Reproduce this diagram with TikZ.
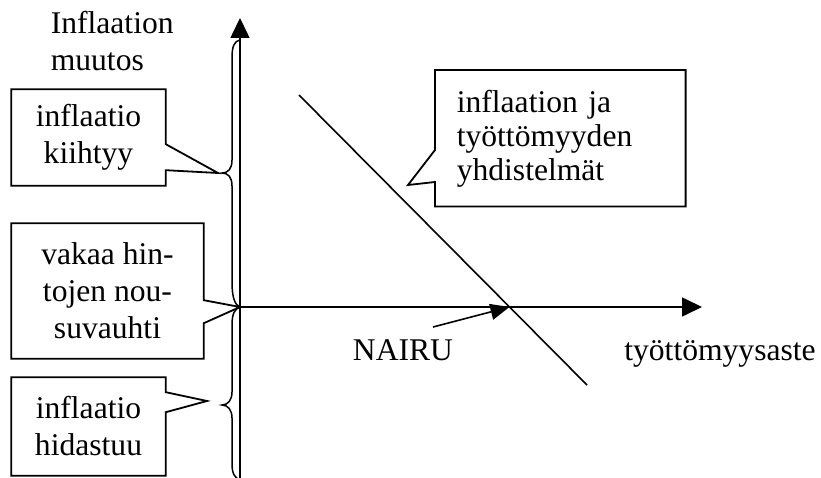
\documentclass[tikz,border=0pt]{standalone}
\usepackage{fontspec}
\setmainfont{Liberation Serif}
\usetikzlibrary{arrows.meta,calc}
\begin{document}
\begin{tikzpicture}[x=1pt,y=-1pt,
  line width=1.6pt,
  txt/.style={inner sep=0pt,font=\fontsize{31.6}{37}\selectfont},
  boxtxt/.style={txt,align=center},
  outline/.style={line width=1.8pt,line join=miter},
  axis/.style={-{Triangle[length=20pt,width=19pt]}},
  pointer/.style={-{Triangle[length=19pt,width=16pt]}},
  bracepath/.style={line width=1.5pt}]
\useasboundingbox (0,0) rectangle (821,478);

% axes
\coordinate (O) at (240,307);
\coordinate (ytop) at (240,18);
\coordinate (ybot) at (240,480);
\coordinate (xend) at (702,307);
\draw[axis] (ybot) -- (ytop);
\draw[axis] (O) -- (xend);

% braces beside the vertical axis
\draw[bracepath] (240,40) .. controls (234,41) and (232,47) .. (232,58)
  -- (232,160) .. controls (232,169) and (228,173) .. (222,173)
  .. controls (228,173) and (232,177) .. (232,186)
  -- (232,282) .. controls (232,298) and (235,305) .. (O);
\draw[bracepath] (O) .. controls (235,309) and (232,313) .. (232,325)
  -- (232,392) .. controls (232,400) and (228,405) .. (222,405)
  .. controls (228,405) and (232,410) .. (232,418)
  -- (232,464) .. controls (232,474) and (235,478) .. (240,480);

% Phillips curve and NAIRU
\coordinate (c1) at (299,95);
\coordinate (c2) at (587,385);
\coordinate (N) at (509.5,307);
\draw (c1) -- (c2);
\coordinate (nstart) at (433,327);
\draw[pointer] (nstart) -- (N);
\node[txt,anchor=base] (nairu) at (403,360) {NAIRU};
\node[txt,anchor=base] (xlab) at (720,360) {työttömyysaste};
\node[txt,align=left,anchor=west] (ylab) at (50,41.5) {Inflaation\\muutos};

% callout boxes
\node[boxtxt,minimum width=153pt,minimum height=95pt] (b1) at (88.5,137.5) {inflaatio\\kiihtyy};
\coordinate (t1) at (218,173);
\draw[outline] (b1.north west) -- (b1.north east) -- ($(b1.north east)+(0,55)$)
  -- (t1) -- ($(b1.north east)+(0,81)$) -- (b1.south east) -- (b1.south west) -- cycle;

\node[boxtxt,minimum width=191pt,minimum height=134pt] (b2) at (107.5,291) {vakaa hin-\\tojen nou-\\suvauhti};
\draw[outline] (b2.north west) -- (b2.north east) -- ($(b2.north east)+(0,77)$)
  -- (O) -- ($(b2.north east)+(0,100)$) -- (b2.south east) -- (b2.south west) -- cycle;

\node[boxtxt,minimum width=153pt,minimum height=97pt] (b3) at (88.5,426.5) {inflaatio\\hidastuu};
\coordinate (t3) at (207,401);
\draw[outline] (b3.north west) -- (b3.north east) -- ($(b3.north east)+(0,15)$)
  -- (t3) -- ($(b3.north east)+(0,35)$) -- (b3.south east) -- (b3.south west) -- cycle;

\node[txt,font=\fontsize{31.6}{34}\selectfont,align=left,text width=207pt,
  minimum height=135pt,inner xsep=21pt,anchor=north west] (b4) at (435,70)
  {inflaation ja\\työttömyyden\\yhdistelmät};
\coordinate (t4) at (408,185);
\draw[outline] (b4.north west) -- (b4.north east) -- (b4.south east) -- (b4.south west)
  -- ($(b4.north west)+(0,112)$) -- (t4) -- ($(b4.north west)+(0,80)$) -- cycle;
\end{tikzpicture}
\end{document}
